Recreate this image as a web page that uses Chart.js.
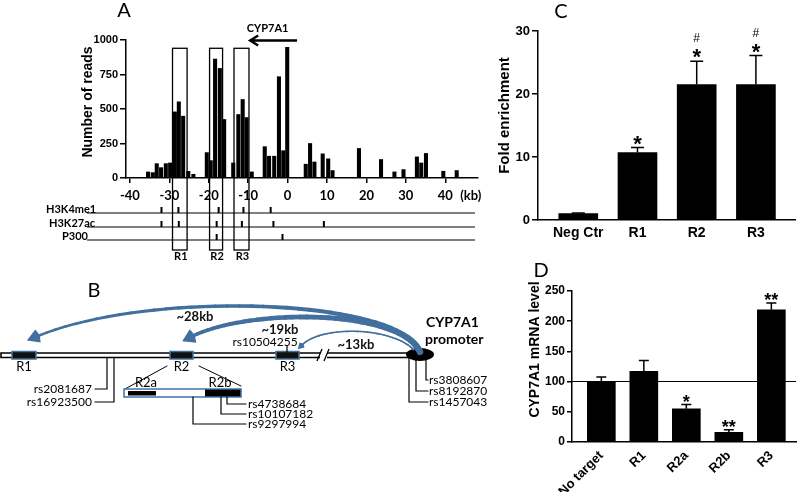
<!DOCTYPE html>
<html>
<head>
<meta charset="utf-8">
<script src="https://cdn.jsdelivr.net/npm/chart.js@4.4.1/dist/chart.umd.min.js"></script>
<style>
  html, body { margin: 0; padding: 0; background: #fff; }
  #figure { position: relative; width: 800px; height: 494px; overflow: hidden; background: #fff; }
  #figure canvas { position: absolute; }
</style>
</head>
<body>
<div id="figure">
  <canvas id="chartA" width="490" height="270" style="left:0;top:0"></canvas>
  <canvas id="chartB" width="490" height="180" style="left:0;top:270px"></canvas>
  <canvas id="chartC" width="310" height="250" style="left:490px;top:0"></canvas>
  <canvas id="chartD" width="310" height="239" style="left:490px;top:255px"></canvas>
</div>
<script>
const ARIAL = '"Liberation Sans", Arial, sans-serif';
const CALIBRI = 'Lato, "Noto Sans", sans-serif';

// --- Panel A: ChIP-seq reads around CYP7A1 ---
const readPositionsKb = [-35.4, -34.2, -33.2, -32.1, -30.9, -29.8, -28.6, -27.6, -26.5, -25.2, -23.9,
    -20.5, -19.5, -18.4, -17.2, -16.1, -13.8, -12.5, -11.4, -10.4, -9.1,
    -5.8, -4.7, -3.4, -2.2, -1.1, -0.1, 4.6, 5.7, 6.8, 8.9, 10.3, 11.4,
    18.1, 23.7, 27.1, 29.4, 32.8, 33.9, 35.1, 39.5, 42.9];
const readCounts = [44, 39, 104, 75, 104, 109, 479, 552, 448, 48, 27,
    184, 126, 862, 794, 424, 109, 460, 569, 438, 44,
    227, 158, 158, 734, 198, 947, 100, 250, 116, 175, 139, 54,
    214, 134, 44, 61, 153, 109, 178, 49, 54];
const readTicks = [0, 250, 500, 750, 1000];
const kbTicks = [-40, -30, -20, -10, 0, 10, 20, 30, 40];
const regionNames = ['R1', 'R2', 'R3'];
const regionStartKb = [-29.2, -19.8, -13.6];
const regionEndKb = [-25.5, -16.5, -9.8];
const regionBoxTop = 940;
const trackNames = ['H3K4me1', 'H3K27ac', 'P300'];
const h3k4me1Kb = [-32.0, -27.7, -17.5, -11.2, -4.3];
const h3k27acKb = [-32.0, -27.6, -18.0, -11.6, -3.6, 9.2];
const p300Kb = [-18.0, -1.3];

// --- Panel C: fold enrichment ---
const chipCategories = ['Neg Ctr', 'R1', 'R2', 'R3'];
const chipFold = [1.0, 10.7, 21.5, 21.5];
const chipSem = [0.1, 0.8, 3.7, 4.6];
const chipStars = ['', '*', '*', '*'];
const chipHashes = ['', '', '#', '#'];
const chipTicks = [0, 10, 20, 30];

// --- Panel D: CYP7A1 mRNA ---
const mrnaCategories = ['No target', 'R1', 'R2a', 'R2b', 'R3'];
const mrnaLevel = [100, 117, 55, 16, 219];
const mrnaSem = [7.5, 18, 7, 4.4, 11];
const mrnaStars = ['', '', '*', '**', '**'];
const mrnaTicks = [0, 50, 100, 150, 200, 250];
const mrnaReference = 101;

// --- Panel B: loop schematic text ---
const loopLabels = ['~28kb', '~19kb', '~13kb'];
const insetNames = ['R2a', 'R2b'];
const snpsLeft = ['rs2081687', 'rs16923500'];
const snpsR2b = ['rs4738684', 'rs10107182', 'rs9297994'];
const snpsR3 = ['rs10504255'];
const snpsPromoter = ['rs3808607', 'rs8192870', 'rs1457043'];

const tickFont = (size, family) => ({ family: family || ARIAL, size: size, weight: 'bold' });

// vertical error bar (upper half only, GraphPad style)
const drawSem = (ctx, px, basePx, topPx, capHalf) => {
    ctx.beginPath();
    ctx.moveTo(px, basePx);
    ctx.lineTo(px, topPx);
    ctx.moveTo(px - capHalf, topPx);
    ctx.lineTo(px + capHalf, topPx);
    ctx.stroke();
};

// rotated y-axis title, centred at (cx, cy)
const drawYTitle = (ctx, text, cx, cy, size) => {
    ctx.save();
    ctx.translate(cx, cy);
    ctx.rotate(-Math.PI / 2);
    ctx.font = 'bold ' + size + 'px ' + ARIAL;
    ctx.fillStyle = '#000';
    ctx.textAlign = 'center';
    ctx.textBaseline = 'middle';
    ctx.fillText(text, 0, 0);
    ctx.restore();
};

// ---------- Panel A ----------
const panelAExtras = {
    id: 'panelAExtras',
    afterDraw(chart) {
        const { ctx, scales: { x, y } } = chart;
        drawYTitle(ctx, 'Number of reads', x.left - 38, (y.top + y.bottom) / 2 - 7, 14);
        ctx.save();
        ctx.fillStyle = '#000';
        ctx.strokeStyle = '#000';

        ctx.font = '20px ' + CALIBRI;
        ctx.textAlign = 'center';
        ctx.textBaseline = 'alphabetic';
        ctx.fillText('A', 124, 17);

        // gene direction arrow
        ctx.font = 'bold 11px ' + CALIBRI;
        ctx.fillText('CYP7A1', (x.getPixelForValue(2.4) + x.getPixelForValue(-9.5)) / 2 - 6, 32);
        const ay = y.getPixelForValue(1000) + 0.5;
        const ax0 = x.getPixelForValue(2.4), ax1 = x.getPixelForValue(-9.5);
        ctx.lineWidth = 2.5;
        ctx.beginPath();
        ctx.moveTo(ax0, ay); ctx.lineTo(ax1 + 1, ay);
        ctx.moveTo(ax1 + 8, ay - 5); ctx.lineTo(ax1, ay); ctx.lineTo(ax1 + 8, ay + 5);
        ctx.stroke();

        // boxed regions
        ctx.lineWidth = 1.3;
        ctx.font = 'bold 11px ' + CALIBRI;
        regionNames.forEach((name, i) => {
            const x0 = x.getPixelForValue(regionStartKb[i]);
            const x1 = x.getPixelForValue(regionEndKb[i]);
            const top = y.getPixelForValue(regionBoxTop);
            ctx.strokeRect(x0, top, x1 - x0, y.bottom + 72 - top);
            ctx.fillText(name, (x0 + x1) / 2 + 1, y.bottom + 82);
        });

        // kb unit after last tick
        ctx.font = 'bold 13px ' + CALIBRI;
        ctx.textAlign = 'left';
        ctx.textBaseline = 'middle';
        ctx.fillText('(kb)', x.getPixelForValue(40) + 15, y.bottom + 18);

        // histone / p300 tracks
        const trackMarks = [h3k4me1Kb, h3k27acKb, p300Kb];
        const trackOffset = [35, 49, 62];
        const labelLeft = [46, 49, 62];
        ctx.font = 'bold 11px ' + CALIBRI;
        ctx.textBaseline = 'alphabetic';
        trackNames.forEach((name, i) => {
            const ly = y.bottom + trackOffset[i];
            ctx.lineWidth = 1;
            ctx.beginPath();
            ctx.moveTo(x.left - 39, ly); ctx.lineTo(x.right - 3, ly);
            ctx.stroke();
            ctx.fillText(name, labelLeft[i], ly - 0.5);
            ctx.lineWidth = 2;
            trackMarks[i].forEach(kb => {
                const mx = x.getPixelForValue(kb);
                ctx.beginPath();
                ctx.moveTo(mx, ly); ctx.lineTo(mx, ly - 6);
                ctx.stroke();
            });
        });
        ctx.restore();
    }
};

new Chart(document.getElementById('chartA'), {
    type: 'bar',
    data: {
        datasets: [{
            data: readPositionsKb.map((kb, i) => ({ x: kb, y: readCounts[i] })),
            backgroundColor: '#000',
            borderWidth: 0,
            barThickness: 3.4
        }]
    },
    options: {
        responsive: false,
        animation: false,
        layout: { padding: { left: 76, right: 12, top: 40, bottom: 62 } },
        plugins: { legend: { display: false }, tooltip: { enabled: false } },
        scales: {
            x: {
                type: 'linear', min: -41, max: 48.3, offset: false,
                afterBuildTicks: s => { s.ticks = kbTicks.map(v => ({ value: v })); },
                afterFit: s => { s.height = 30; },
                grid: { drawOnChartArea: false, drawTicks: true, tickLength: 5, color: '#000', lineWidth: 1.5, offset: false },
                border: { display: true, color: '#000', width: 1.5 },
                ticks: { callback: v => String(v), font: tickFont(13, CALIBRI), color: '#000', padding: 5, maxRotation: 0, autoSkip: false }
            },
            y: {
                min: 0, max: 1000,
                afterBuildTicks: s => { s.ticks = readTicks.map(v => ({ value: v })); },
                afterFit: s => { s.width = 50; },
                grid: { drawOnChartArea: false, tickLength: 6, color: '#000', lineWidth: 1.5 },
                border: { color: '#000', width: 1.5 },
                ticks: { callback: v => String(v), font: tickFont(11), color: '#000', padding: 2 }
            }
        }
    },
    plugins: [panelAExtras]
});

// ---------- Panel C ----------
const panelCExtras = {
    id: 'panelCExtras',
    afterDatasetsDraw(chart) {
        const { ctx, scales: { x, y } } = chart;
        drawYTitle(ctx, 'Fold enrichment', 15, (y.top + y.bottom) / 2 - 10, 15);
        ctx.save();
        ctx.strokeStyle = '#000';
        ctx.fillStyle = '#000';
        ctx.lineWidth = 1.5;
        ctx.textAlign = 'center';
        ctx.textBaseline = 'alphabetic';
        chipFold.forEach((v, i) => {
            const px = x.getPixelForValue(i);
            const top = y.getPixelForValue(v + chipSem[i]);
            drawSem(ctx, px, y.getPixelForValue(v), top, 6.5);
            if (chipStars[i]) {
                ctx.font = 'bold 22px ' + ARIAL;
                ctx.fillText(chipStars[i], px, top + 3);
            }
            if (chipHashes[i]) {
                ctx.font = '12px ' + ARIAL;
                ctx.fillText(chipHashes[i], px, top - 19);
            }
        });
        ctx.font = '20px ' + CALIBRI;
        ctx.fillText('C', 71, 18);
        ctx.restore();
    }
};

new Chart(document.getElementById('chartC'), {
    type: 'bar',
    data: {
        datasets: [{
            data: chipFold.map((v, i) => ({ x: i, y: v })),
            backgroundColor: '#000',
            borderWidth: 0,
            barThickness: 39
        }]
    },
    options: {
        responsive: false,
        animation: false,
        layout: { padding: { left: 0, right: 5, top: 31, bottom: 2 } },
        plugins: { legend: { display: false }, tooltip: { enabled: false } },
        scales: {
            x: {
                type: 'linear', min: -0.68, max: 3.66, offset: false,
                afterBuildTicks: s => { s.ticks = chipCategories.map((c, i) => ({ value: i })); },
                afterFit: s => { s.height = 28; },
                grid: { display: false, drawTicks: false },
                border: { display: true, color: '#000', width: 1.5 },
                ticks: { callback: v => chipCategories[v], font: tickFont(14), color: '#000', padding: 5, maxRotation: 0, autoSkip: false }
            },
            y: {
                min: 0, max: 30,
                afterBuildTicks: s => { s.ticks = chipTicks.map(v => ({ value: v })); },
                afterFit: s => { s.width = 48; },
                grid: { drawOnChartArea: false, tickLength: 6, color: '#000', lineWidth: 1.5 },
                border: { color: '#000', width: 1.5 },
                ticks: { font: tickFont(13), color: '#000', padding: 2 }
            }
        }
    },
    plugins: [panelCExtras]
});

// ---------- Panel D ----------
const panelDExtras = {
    id: 'panelDExtras',
    afterDatasetsDraw(chart) {
        const { ctx, scales: { x, y } } = chart;
        drawYTitle(ctx, 'CYP7A1 mRNA level', 45, (y.top + y.bottom) / 2 - 17, 14);
        ctx.save();
        ctx.strokeStyle = '#000';
        ctx.fillStyle = '#000';

        // 100% reference line
        ctx.lineWidth = 1;
        const ry = Math.round(y.getPixelForValue(mrnaReference)) + 0.5;
        ctx.beginPath();
        ctx.moveTo(x.left, ry); ctx.lineTo(x.right, ry);
        ctx.stroke();

        ctx.lineWidth = 1.5;
        ctx.textAlign = 'center';
        ctx.textBaseline = 'alphabetic';
        ctx.font = 'bold 18px ' + ARIAL;
        mrnaLevel.forEach((v, i) => {
            const px = x.getPixelForValue(i);
            const top = y.getPixelForValue(v + mrnaSem[i]);
            drawSem(ctx, px, y.getPixelForValue(v), top, 5);
            if (mrnaStars[i]) ctx.fillText(mrnaStars[i], px, top + 3);
        });
        ctx.font = '20px ' + CALIBRI;
        ctx.fillText('D', 51, 22);
        ctx.restore();
    }
};

new Chart(document.getElementById('chartD'), {
    type: 'bar',
    data: {
        datasets: [{
            data: mrnaLevel.map((v, i) => ({ x: i, y: v })),
            backgroundColor: '#000',
            borderWidth: 0,
            barThickness: 28
        }]
    },
    options: {
        responsive: false,
        animation: false,
        layout: { padding: { left: 0, right: 4, top: 36, bottom: 2 } },
        plugins: { legend: { display: false }, tooltip: { enabled: false } },
        scales: {
            x: {
                type: 'linear', min: -0.69, max: 4.58, offset: false,
                afterBuildTicks: s => { s.ticks = mrnaCategories.map((c, i) => ({ value: i })); },
                afterFit: s => { s.height = 50; },
                grid: { display: false, drawTicks: false },
                border: { display: true, color: '#000', width: 1.5 },
                ticks: { callback: v => mrnaCategories[v], font: tickFont(13), color: '#000', padding: 6, minRotation: 45, maxRotation: 45, autoSkip: false }
            },
            y: {
                min: 0, max: 250,
                afterBuildTicks: s => { s.ticks = mrnaTicks.map(v => ({ value: v })); },
                afterFit: s => { s.width = 82; },
                grid: { drawOnChartArea: false, tickLength: 5, color: '#000', lineWidth: 1.5 },
                border: { color: '#000', width: 1.5 },
                ticks: { font: tickFont(12), color: '#000', padding: 2 }
            }
        }
    },
    plugins: [panelDExtras]
});

// ---------- Panel B: schematic of the loops ----------
const bezierPoint = (p, t) => {
    const u = 1 - t;
    return {
        x: u * u * u * p[0].x + 3 * u * u * t * p[1].x + 3 * u * t * t * p[2].x + t * t * t * p[3].x,
        y: u * u * u * p[0].y + 3 * u * u * t * p[1].y + 3 * u * t * t * p[2].y + t * t * t * p[3].y
    };
};

const drawLoop = (ctx, p, w0, w1, headLen, headHalf, color) => {
    ctx.strokeStyle = color;
    ctx.fillStyle = color;
    ctx.lineCap = 'round';
    let prev = bezierPoint(p, 0);
    for (let i = 1; i <= 40; i++) {
        const t = i / 40;
        const cur = bezierPoint(p, t);
        ctx.lineWidth = w0 + (w1 - w0) * t;
        ctx.beginPath();
        ctx.moveTo(prev.x, prev.y); ctx.lineTo(cur.x, cur.y);
        ctx.stroke();
        prev = cur;
    }
    const end = p[3];
    const dx = end.x - p[2].x, dy = end.y - p[2].y;
    const len = Math.hypot(dx, dy);
    const ux = dx / len, uy = dy / len;
    ctx.beginPath();
    ctx.moveTo(end.x + ux * headLen, end.y + uy * headLen);
    ctx.lineTo(end.x - uy * headHalf, end.y + ux * headHalf);
    ctx.lineTo(end.x - ux * 2, end.y - uy * 2);
    ctx.lineTo(end.x + uy * headHalf, end.y - ux * headHalf);
    ctx.closePath();
    ctx.fill();
};

const panelBDiagram = {
    id: 'panelBDiagram',
    afterDraw(chart) {
        const { ctx, scales: { x, y } } = chart;
        const P = (px, py) => ({ x: x.getPixelForValue(px), y: y.getPixelForValue(py) });
        const poly = pts => {
            ctx.beginPath();
            pts.forEach((q, i) => {
                const s = P(q[0], q[1]);
                if (i === 0) ctx.moveTo(s.x, s.y); else ctx.lineTo(s.x, s.y);
            });
            ctx.stroke();
        };
        const blue = '#41709f';
        ctx.save();

        ctx.fillStyle = '#000';
        ctx.font = '20px ' + CALIBRI;
        ctx.textAlign = 'center';
        ctx.fillText('B', P(94, 0).x, P(0, 297).y);

        // DNA backbone (double line) with a break
        ctx.strokeStyle = '#000';
        ctx.lineWidth = 1.6;
        poly([[320, 353], [1, 353], [1, 357.5], [320, 357.5]]);
        poly([[327, 353], [410, 353]]);
        poly([[327, 357.5], [410, 357.5]]);
        ctx.lineWidth = 1.3;
        poly([[317, 361], [322, 349]]);
        poly([[324, 361], [329, 349]]);

        // enhancer regions on the backbone
        const regionX = [[12, 36], [170, 193], [276, 299]];
        regionX.forEach((r, i) => {
            const a = P(r[0], 351.5), b = P(r[1], 359);
            ctx.fillStyle = '#111';
            ctx.fillRect(a.x, a.y, b.x - a.x, b.y - a.y);
            ctx.strokeStyle = blue;
            ctx.lineWidth = 1.5;
            ctx.strokeRect(a.x, a.y, b.x - a.x, b.y - a.y);
            ctx.fillStyle = '#000';
            ctx.font = '13px ' + CALIBRI;
            ctx.textBaseline = 'middle';
            ctx.fillText(regionNames[i], (a.x + b.x) / 2, P(0, 367).y);
        });

        // promoter
        const c = P(420, 354.5);
        ctx.fillStyle = '#000';
        ctx.beginPath();
        ctx.ellipse(c.x, c.y, 14, 6.5, 0, 0, Math.PI * 2);
        ctx.fill();
        ctx.font = 'bold 14px ' + CALIBRI;
        ctx.textAlign = 'left';
        ctx.fillText('CYP7A1', P(426, 0).x, P(0, 322).y);
        ctx.fillText('promoter', P(425, 0).x, P(0, 339).y);

        // loops from promoter
        const loops = [
            [[420, 352], [400, 298], [150, 290], [38, 336]],
            [[420, 352], [402, 309], [250, 308], [193, 336]],
            [[414, 350], [392, 327], [322, 325], [302, 345]]
        ];
        const widths = [[5, 2.5], [6.5, 3.5], [1.6, 1.6]];
        const heads = [[12, 7], [12, 7.5], [6, 3.5]];
        loops.forEach((l, i) => {
            drawLoop(ctx, l.map(q => P(q[0], q[1])), widths[i][0], widths[i][1], heads[i][0], heads[i][1], blue);
        });
        ctx.fillStyle = '#111';
        ctx.font = 'bold 13px ' + CALIBRI;
        ctx.textAlign = 'center';
        const loopLabelPos = [[195, 317], [280, 330], [356, 345]];
        loopLabels.forEach((t, i) => ctx.fillText(t, P(loopLabelPos[i][0], 0).x, P(0, loopLabelPos[i][1]).y));

        // R2 inset
        ctx.strokeStyle = '#000';
        ctx.lineWidth = 1;
        poly([[167, 366], [125, 389]]);
        poly([[199, 366], [241, 386]]);
        const i0 = P(124, 389), i1 = P(241, 397);
        ctx.fillStyle = '#fff';
        ctx.fillRect(i0.x, i0.y, i1.x - i0.x, i1.y - i0.y);
        ctx.fillStyle = '#000';
        const a0 = P(128, 391), a1 = P(156, 395.5);
        ctx.fillRect(a0.x, a0.y, a1.x - a0.x, a1.y - a0.y);
        const b0 = P(205, 389), b1 = P(241, 397);
        ctx.fillRect(b0.x, b0.y, b1.x - b0.x, b1.y - b0.y);
        ctx.strokeStyle = blue;
        ctx.lineWidth = 1.5;
        ctx.strokeRect(i0.x, i0.y, i1.x - i0.x, i1.y - i0.y);
        ctx.fillStyle = '#000';
        ctx.font = '13px ' + CALIBRI;
        ctx.fillText(insetNames[0], P(146, 0).x, P(0, 383).y);
        ctx.fillText(insetNames[1], P(220, 0).x, P(0, 383).y);

        // SNP call-outs
        ctx.strokeStyle = '#000';
        ctx.lineWidth = 1.2;
        ctx.font = '12px ' + CALIBRI;
        ctx.fillStyle = '#000';

        ctx.textAlign = 'right';
        const leftStem = [107, 114], leftY = [389, 402];
        snpsLeft.forEach((s, i) => {
            poly([[leftStem[i], 358], [leftStem[i], leftY[i]], [95, leftY[i]]]);
            ctx.fillText(s, P(92, 0).x, P(0, leftY[i]).y);
        });

        ctx.textAlign = 'left';
        const r2bStem = [227, 221, 193], r2bY = [404, 414, 424];
        snpsR2b.forEach((s, i) => {
            poly([[r2bStem[i], 397], [r2bStem[i], r2bY[i]], [246, r2bY[i]]]);
            ctx.fillText(s, P(248, 0).x, P(0, r2bY[i]).y);
        });

        ctx.textAlign = 'center';
        poly([[287, 346], [287, 352]]);
        ctx.fillText(snpsR3[0], P(265, 0).x, P(0, 342).y);

        ctx.textAlign = 'left';
        const promStem = [426, 416, 409], promTop = [360, 360, 358], promY = [380, 391, 402];
        snpsPromoter.forEach((s, i) => {
            poly([[promStem[i], promTop[i]], [promStem[i], promY[i]], [428, promY[i]]]);
            ctx.fillText(s, P(429, 0).x, P(0, promY[i]).y);
        });
        ctx.restore();
    }
};

new Chart(document.getElementById('chartB'), {
    type: 'scatter',
    data: { datasets: [] },
    options: {
        responsive: false,
        animation: false,
        layout: { padding: 0 },
        plugins: { legend: { display: false }, tooltip: { enabled: false } },
        scales: {
            x: { type: 'linear', min: 0, max: 490, display: false },
            y: { type: 'linear', min: 270, max: 450, reverse: true, display: false }
        }
    },
    plugins: [panelBDiagram]
});
</script>
</body>
</html>
